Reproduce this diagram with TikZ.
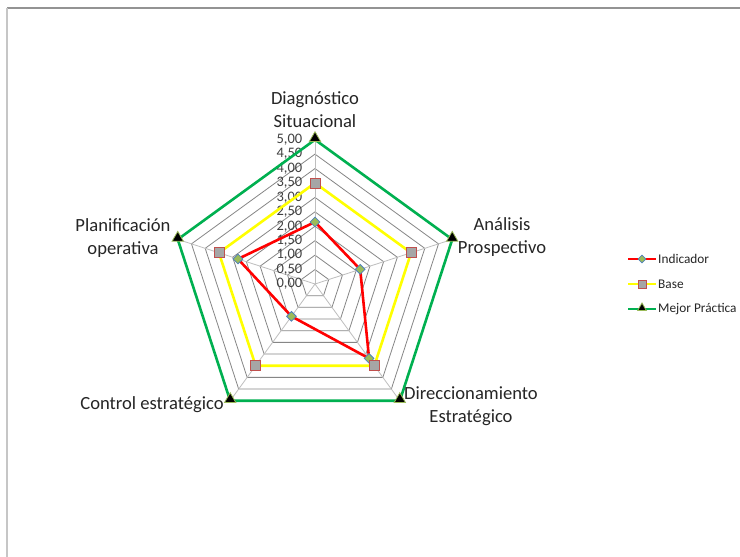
\documentclass[tikz,border=0pt]{standalone}
\usepackage{fontspec}
\setmainfont{Carlito}
\usetikzlibrary{shapes.geometric,calc}
\definecolor{indred}{RGB}{255,0,0}
\definecolor{baseyel}{RGB}{255,255,0}
\definecolor{bestgreen}{RGB}{0,176,80}
\definecolor{mkgreen}{RGB}{155,187,89}
\definecolor{mkblue}{RGB}{79,129,189}
\definecolor{mkred}{RGB}{192,80,77}
\definecolor{mkgray}{RGB}{166,166,166}
\definecolor{gridgray}{RGB}{134,134,134}
\definecolor{spokegray}{RGB}{190,190,190}
\definecolor{txtgray}{RGB}{64,64,64}
\tikzset{
  gridring/.style={draw=gridgray, line width=0.8},
  spokeline/.style={draw=spokegray, line width=0.8},
  ticklbl/.style={text=txtgray, font=\fontsize{14.5}{14.5}\selectfont, inner sep=0pt, anchor=east},
  catlbl/.style={text=black!85, font=\fontsize{18.6}{23}\selectfont, align=center, inner sep=0pt},
  leglbl/.style={text=black!85, font=\fontsize{13.3}{14}\selectfont, inner sep=0pt, anchor=west},
  indline/.style={draw=indred, line width=2.6, line join=round},
  basline/.style={draw=baseyel, line width=2.6, line join=round},
  bestline/.style={draw=bestgreen, line width=2.6, line join=round},
  dmark/.style={diamond, shape aspect=1, fill=mkgreen, draw=mkblue, line width=0.8, inner sep=0pt, minimum size=10},
  smark/.style={rectangle, fill=mkgray, draw=mkred, line width=0.8, inner sep=0pt, minimum size=10},
  tmark/.style={regular polygon, regular polygon sides=3, fill=black, draw=mkgreen, line width=0.8, inner sep=0pt, minimum size=13},
  frameline/.style={line width=1.2}
}
\begin{document}
\begin{tikzpicture}[x=1pt,y=1pt]
\useasboundingbox (0,0) rectangle (740,557);
\fill[white] (0,0) rectangle (740,557);
% chart frame
\coordinate (fTL) at (7,549);
\coordinate (fTR) at (740,549);
\coordinate (fBL) at (7,0);
\draw[frameline, draw=gray!85] (fTL) -- (fTR);
\draw[frameline, draw=gray!45] (fBL) -- (fTL);

\begin{scope}[shift={(315,273)}]
  \coordinate (O) at (0,0);
  % grid rings
  \foreach \k in {1,...,10} {
    \pgfmathsetmacro{\r}{\k*14.43}
    \draw[gridring] (90:\r) -- (18:\r) -- (-54:\r) -- (-126:\r) -- (162:\r) -- cycle;
  }
  % spokes
  \foreach \a/\n in {90/s1,18/s2,-54/s3,-126/s4,162/s5} {
    \coordinate (\n) at (\a:144.3);
    \draw[spokeline] (O) -- (\n);
  }
  % tick labels
  \foreach \k/\t in {0/{0,00},1/{0,50},2/{1,00},3/{1,50},4/{2,00},5/{2,50},6/{3,00},7/{3,50},8/{4,00},9/{4,50},10/{5,00}} {
    \node[ticklbl] (t\k) at (-12.5,\k*14.43) {\t};
  }
  % data points
  \coordinate (b1) at (90:144.3);
  \coordinate (b2) at (18:144.3);
  \coordinate (b3) at (-54:144.3);
  \coordinate (b4) at (-126:144.3);
  \coordinate (b5) at (162:144.3);
  \coordinate (a1) at (90:101);
  \coordinate (a2) at (18:101);
  \coordinate (a3) at (-54:101);
  \coordinate (a4) at (-126:101);
  \coordinate (a5) at (162:101);
  \coordinate (i1) at (90:62);
  \coordinate (i2) at (18:47.5);
  \coordinate (i3) at (-54:92);
  \coordinate (i4) at (-126:40);
  \coordinate (i5) at (162:81);
  % series lines
  \draw[indline] (i1) -- (i2) -- (i3) -- (i4) -- (i5) -- cycle;
  \draw[basline] (a1) -- (a2) -- (a3) -- (a4) -- (a5) -- cycle;
  \draw[bestline] (b1) -- (b2) -- (b3) -- (b4) -- (b5) -- cycle;
  % markers
  \foreach \p in {1,...,5} {
    \node[dmark] (mi\p) at (i\p) {};
    \node[smark] (ma\p) at (a\p) {};
    \node[tmark, yshift=1.5] (mb\p) at (b\p) {};
  }
\end{scope}

% category labels
\node[catlbl] (cDiag) at (315,447) {Diagnóstico\\Situacional};
\node[catlbl] (cAna) at (502,320) {Análisis\\Prospectivo};
\node[catlbl] (cDir) at (471,151) {Direccionamiento\\Estratégico};
\node[catlbl] (cCon) at (152,152) {Control estratégico};
\node[catlbl] (cPla) at (123,319) {Planificación\\operativa};

% legend
\coordinate (l1a) at (628,298); \coordinate (l1b) at (656,298);
\coordinate (l2a) at (628,273); \coordinate (l2b) at (656,273);
\coordinate (l3a) at (628,248); \coordinate (l3b) at (656,248);
\draw[indline] (l1a) -- (l1b);
\draw[basline] (l2a) -- (l2b);
\draw[bestline] (l3a) -- (l3b);
\node[dmark, minimum size=8] (lm1) at ($(l1a)!0.5!(l1b)$) {};
\node[smark, minimum size=8] (lm2) at ($(l2a)!0.5!(l2b)$) {};
\node[tmark, minimum size=10, yshift=1] (lm3) at ($(l3a)!0.5!(l3b)$) {};
\node[leglbl] (lt1) at (658,298) {Indicador};
\node[leglbl] (lt2) at (658,273) {Base};
\node[leglbl] (lt3) at (658,248) {Mejor Práctica};
\end{tikzpicture}
\end{document}
